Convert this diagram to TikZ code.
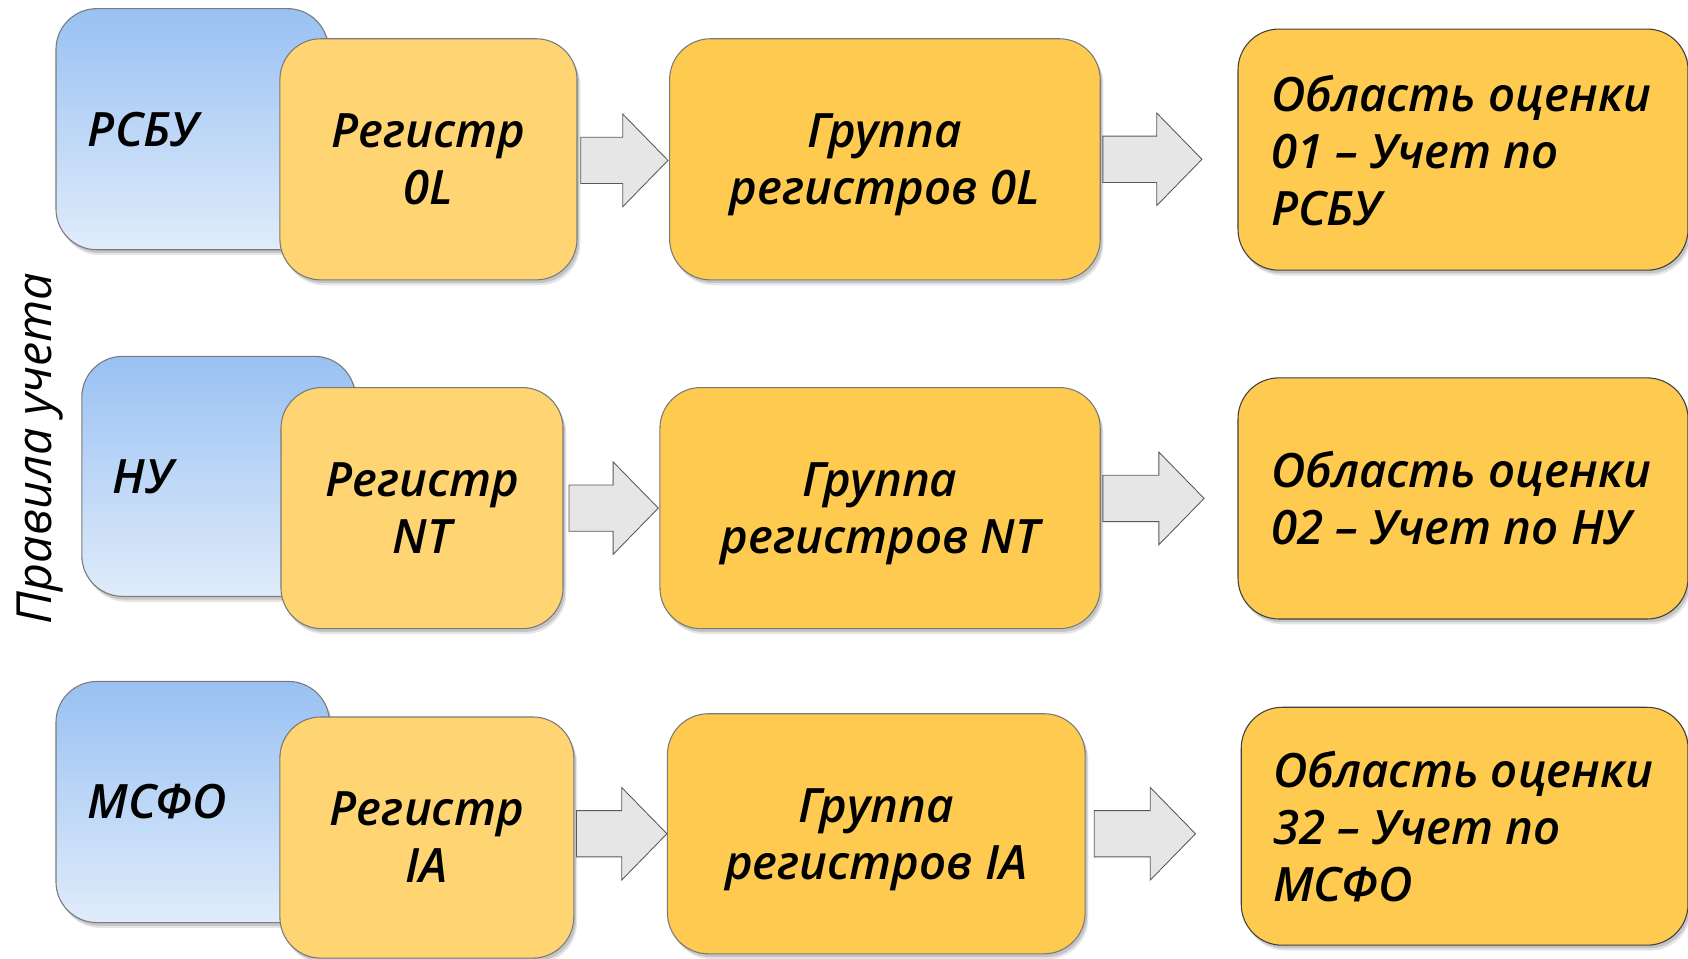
\documentclass[tikz,border=0pt]{standalone}
\usepackage{fontspec}
\setmainfont{Open Sans}
\IfFontExistsTF{Open Sans Semibold Italic}
  {\newfontfamily\labfam{Open Sans Semibold Italic}\newcommand\labshape{}}
  {\newfontfamily\labfam{Open Sans}\newcommand\labshape{\bfseries\itshape}}
\usetikzlibrary{shadows,calc}
\definecolor{blueT}{HTML}{99C1F3}
\definecolor{blueB}{HTML}{E0ECFA}
\definecolor{yelL}{HTML}{FED572}
\definecolor{yelD}{HTML}{FECB50}
\definecolor{arrF}{HTML}{E6E6E6}
\definecolor{edgeG}{HTML}{7A7A7A}
\tikzset{
  shd/.style={general shadow={shadow xshift=3pt,shadow yshift=-5pt,fill=black,opacity=.10},
              general shadow={shadow xshift=2pt,shadow yshift=-3pt,fill=black,opacity=.14}},
  box/.style={rounded corners=38pt, draw=edgeG, line width=1pt, inner sep=0pt, shd},
  bluebox/.style={box, top color=blueT, bottom color=blueB},
  regbox/.style={box, fill=yelL, align=center, font=\mainlab},
  grpbox/.style={box, fill=yelD, align=center, font=\mainlab, text depth=0pt},
  outbox/.style={box, fill=yelD, draw=black!75},
  lab/.style={font=\mainlab, anchor=west, inner sep=0pt, align=left},
  barrow/.style={fill=arrF, draw=black!65, line width=0.8pt},
}
\newcommand\mainlab{\labfam\fontsize{44}{53}\selectfont\labshape}
\newcommand\blockarr[2]{%
  \draw[barrow] let \p1=(#1), \p2=(#2) in
    (\x1,\y1+21.5pt) -- (\x2-42pt,\y1+21.5pt) -- (\x2-42pt,\y1+43pt) -- (\x2,\y1)
    -- (\x2-42pt,\y1-43pt) -- (\x2-42pt,\y1-21.5pt) -- (\x1,\y1-21.5pt) -- cycle;}
\begin{document}
\begin{tikzpicture}[x=1pt,y=-1pt]
\useasboundingbox (0,0) rectangle (1568,890);
% vertical title
\node[rotate=90, anchor=base, inner sep=0pt, font=\fontsize{45}{50}\selectfont\itshape] (title) at (48,416.5) {Правила учета};
% row 1
\node[bluebox, minimum width=253pt, minimum height=224pt] (b1) at (178.5,120) {};
\node[lab] (t1) at ($(b1.west)+(30,0)$) {РСБУ};
\node[regbox, minimum width=276pt, minimum height=224pt] (r1) at (398,148) {Регистр\\0L};
\node[grpbox, minimum width=400pt, minimum height=224pt] (g1) at (822,148) {Группа\\регистров 0L};
\node[outbox, minimum width=418pt, minimum height=224pt] (o1) at (1359,139) {};
\node[lab] (u1) at ($(o1.west)+(31,1)$) {Область оценки\\01 – Учет по\\РСБУ};
\blockarr{$(r1.east)+(3,1)$}{$(g1.west)+(-1,1)$}
\blockarr{$(g1.east)+(2,0)$}{$(g1.east)+(94,0)$}
% row 2
\node[bluebox, minimum width=254pt, minimum height=223pt] (b2) at (203,442.5) {};
\node[lab] (t2) at ($(b2.west)+(29,0)$) {НУ};
\node[regbox, minimum width=262pt, minimum height=224pt] (r2) at (392,472) {Регистр\\NT};
\node[grpbox, minimum width=409pt, minimum height=224pt] (g2) at (817.5,472) {Группа\\регистров NT};
\node[outbox, minimum width=418pt, minimum height=224pt] (o2) at (1359,463) {};
\node[lab] (u2) at ($(o2.west)+(31,0)$) {Область оценки\\02 – Учет по НУ};
\blockarr{$(r2.east)+(5,0)$}{$(g2.west)+(-1,0)$}
\blockarr{$(g2.east |- o2.west)+(2,0)$}{$(g2.east |- o2.west)+(96,0)$}
% row 3
\node[bluebox, minimum width=254pt, minimum height=224pt] (b3) at (179,745) {};
\node[lab] (t3) at ($(b3.west)+(30,0)$) {МСФО};
\node[regbox, minimum width=273pt, minimum height=224pt] (r3) at (396.5,778) {Регистр\\IA};
\node[grpbox, minimum width=388pt, minimum height=223pt] (g3) at (814,774.5) {Группа\\регистров IA};
\node[outbox, minimum width=415pt, minimum height=221pt] (o3) at (1360.5,767.5) {};
\node[lab] (u3) at ($(o3.west)+(30,0)$) {Область оценки\\32 – Учет по\\МСФО};
\blockarr{$(r3.east |- g3.west)+(2,0)$}{$(g3.west)+(0,0)$}
\blockarr{$(g3.east)+(8,0)$}{$(g3.east)+(102,0)$}
\end{tikzpicture}
\end{document}
